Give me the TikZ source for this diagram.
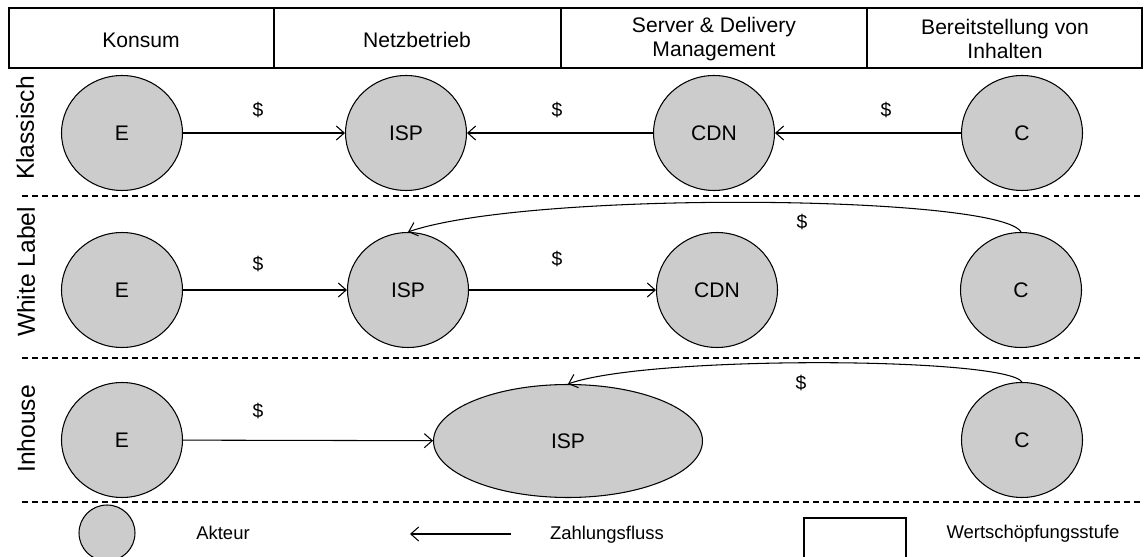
\documentclass[tikz,border=0pt]{standalone}
\usepackage{fontspec}
\setmainfont{Liberation Sans}
\usepackage{xcolor}
\usetikzlibrary{shapes.geometric}
\usetikzlibrary{arrows.meta}
\tikzset{>={Straight Barb[length=4.5pt,width=8pt]}}
\definecolor{aktgray}{RGB}{204,204,204}
\tikzset{akteur/.style={ellipse, draw, fill=aktgray, line width=0.6pt, minimum width=2.42cm, minimum height=2.3cm, inner sep=0pt, font=\fontsize{12}{14}\selectfont}}
\tikzset{fluss/.style={->, line width=0.6pt}}
\tikzset{dollar/.style={font=\fontsize{11}{13}\selectfont}}
\tikzset{ebene/.style={rotate=90, font=\fontsize{14}{16}\selectfont}}
\tikzset{kopf/.style={align=center, font=\fontsize{12}{14}\selectfont}}
\tikzset{legende/.style={font=\fontsize{10.5}{12}\selectfont}}
\tikzset{trenner/.style={dash pattern=on 3.4pt off 2.3pt, line width=0.6pt}}

\begin{document}
\begin{tikzpicture}[x=0.02cm, y=-0.02cm]
\useasboundingbox (0,0) rectangle (1147,557);
\draw[line width=1.2pt] (9,8) rectangle (1142,68);
\draw[line width=1.2pt] (274,8) -- (274,68);
\draw[line width=1.2pt] (561,8) -- (561,68);
\draw[line width=1.2pt] (867,8) -- (867,68);
\node[kopf] (konsum) at (141,40) {Konsum};
\node[kopf] (netz) at (417,40) {Netzbetrieb};
\node[kopf] (server) at (714,39) {Server \& Delivery\\Management};
\node[kopf] (inhalte) at (1005,39) {Bereitstellung von\\Inhalten};

\draw[trenner] (22,196) -- (1143,196);
\draw[trenner] (22,358) -- (1143,358);
\draw[trenner] (22,502) -- (1143,502);

\node[ebene] (klassisch) at (25,128) {Klassisch};
\node[ebene] (white) at (26,272) {White Label};
\node[ebene] (inhouse) at (26,429) {Inhouse};

\node[akteur] (e1) at (122,133) {E};
\node[akteur] (isp1) at (406,133) {ISP};
\node[akteur] (cdn1) at (714,133) {CDN};
\node[akteur] (c1) at (1022,133) {C};
\draw[fluss] (e1) -- (isp1);
\draw[fluss] (cdn1) -- (isp1);
\draw[fluss] (c1) -- (cdn1);
\node[dollar] (d11) at (258,110) {\$};
\node[dollar] (d12) at (557,110) {\$};
\node[dollar] (d13) at (886,110) {\$};

\node[akteur] (e2) at (122,290) {E};
\node[akteur] (isp2) at (408,290) {ISP};
\node[akteur] (cdn2) at (717,290) {CDN};
\node[akteur] (c2) at (1021,290) {C};
\draw[fluss] (e2) -- (isp2);
\draw[fluss] (isp2) -- (cdn2);
\draw[fluss] (c2.north) .. controls (1000,195) and (530,190) .. (isp2.north);
\node[dollar] (d21) at (258,264) {\$};
\node[dollar] (d22) at (557,259) {\$};
\node[dollar] (d23) at (802,222) {\$};

\node[akteur] (e3) at (122,440) {E};
\node[akteur, minimum width=5.38cm, minimum height=2.26cm] (isp3) at (568,441) {ISP};
\node[akteur] (c3) at (1022,440) {C};
\draw[fluss] (e3) -- (isp3);
\draw[fluss] (c3.north) .. controls (1005,357) and (650,355) .. (isp3.north);
\node[dollar] (d31) at (258,411) {\$};
\node[dollar] (d32) at (801,383) {\$};

\node[akteur, minimum width=1.12cm, minimum height=1.12cm] (legakteur) at (107,533) {};
\node[legende] (akteur) at (223,533) {Akteur};
\coordinate (pfeilA) at (511,534);
\coordinate (pfeilB) at (410,534);
\draw[fluss] (pfeilA) -- (pfeilB);
\node[legende] (zahlung) at (607,535) {Zahlungsfluss};
\draw[line width=0.6pt] (804,518) rectangle (906,570);
\node[legende] (stufe) at (1033,534) {Wertschöpfungsstufe};
\end{tikzpicture}
\end{document}
